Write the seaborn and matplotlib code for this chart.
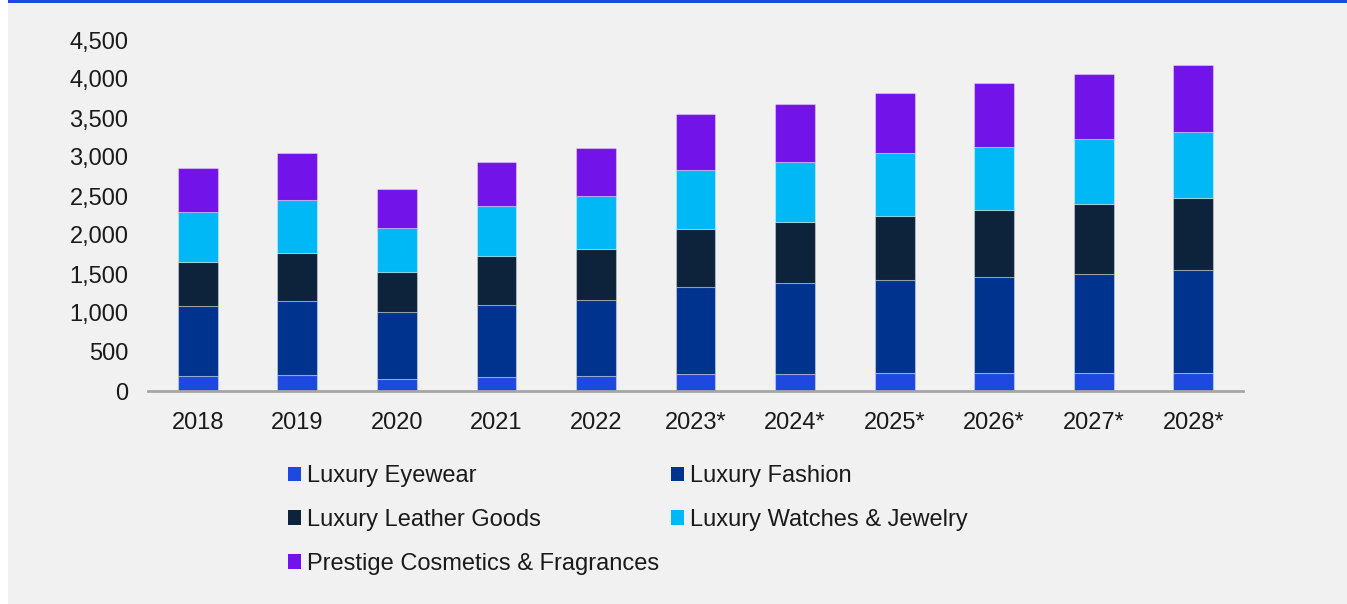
import numpy as np
import seaborn as sns
import matplotlib.pyplot as plt
from matplotlib.patches import Patch, Rectangle
from matplotlib.ticker import FuncFormatter, MultipleLocator

# data
years = ["2018", "2019", "2020", "2021", "2022",
         "2023*", "2024*", "2025*", "2026*", "2027*", "2028*"]
eyewear = [188, 201, 154, 175, 188, 214, 214, 227, 227, 227, 230]
fashion = [902, 949, 855, 924, 975, 1115, 1166, 1192, 1230, 1273, 1317]
leather = [568, 619, 512, 628, 657, 748, 782, 829, 863, 897, 923]
watches = [633, 680, 565, 645, 684, 756, 774, 799, 812, 829, 854]
cosmetics = [564, 602, 504, 564, 611, 714, 747, 777, 813, 834, 859]

series = ["Luxury Eyewear", "Luxury Fashion", "Luxury Leather Goods",
          "Luxury Watches & Jewelry", "Prestige Cosmetics & Fragrances"]
values = [eyewear, fashion, leather, watches, cosmetics]
colors = ["#1f48e0", "#00338d", "#0c233b", "#00b8f5", "#7213ea"]

sns.set_theme(style="white")
plt.rcParams['font.family'] = ['Liberation Sans', 'DejaVu Sans']
txt = "#1a1a1a"

fig = plt.figure(figsize=(13.47, 6.04), dpi=100)
fig.patch.set_facecolor("#f1f1f1")
ax = fig.add_axes([148 / 1347, 1 - 391 / 604, (1243 - 148) / 1347, (391 - 40) / 604])
ax.set_facecolor("none")

bottom = np.zeros(len(years))
for name, vals, col in zip(series, values, colors):
    sns.barplot(x=years, y=vals, color=col, saturation=1, width=0.4,
                bottom=bottom, errorbar=None, ax=ax,
                edgecolor=(1, 1, 1, 0.35), linewidth=0.8)
    bottom = bottom + np.array(vals)

ax.set_ylim(0, 4500)
ax.set_xlim(-0.5, 10.5)
ax.yaxis.set_major_locator(MultipleLocator(500))
ax.yaxis.set_major_formatter(FuncFormatter(lambda v, p: f"{int(v):,}"))
for s in ["left", "top", "right"]:
    ax.spines[s].set_visible(False)
ax.spines["bottom"].set_color("#a6a6a6")
ax.spines["bottom"].set_linewidth(2)
ax.tick_params(axis="x", length=0, pad=15, labelsize=17, labelcolor=txt)
ax.tick_params(axis="y", length=0, pad=14, labelsize=17, labelcolor=txt)
ax.set_xlabel("")
ax.set_ylabel("")

# legend, row-major order
handles = [Patch(facecolor=c, edgecolor="none") for c in colors]
order = [0, 2, 4, 1, 3]
fig.legend([handles[i] for i in order], [series[i] for i in order],
           ncol=2, loc="upper left", bbox_to_anchor=(288 / 1347, 1 - 465 / 604),
           frameon=False, fontsize=17, borderpad=0, borderaxespad=0,
           handlelength=0.55, handleheight=0.55, handletextpad=0.25,
           labelspacing=0.93, columnspacing=0.5, labelcolor=txt)

# white strip on the left and blue rule on top
fig.patches.append(Rectangle((0, 0), 8 / 1347, 1, transform=fig.transFigure,
                             facecolor="white", edgecolor="none", zorder=0))
fig.patches.append(Rectangle((8 / 1347, 1 - 2.5 / 604), 1, 2.5 / 604, transform=fig.transFigure,
                             facecolor="#1f48e0", edgecolor="none", zorder=0))

fig.savefig("out.png", dpi=100, facecolor=fig.get_facecolor())
